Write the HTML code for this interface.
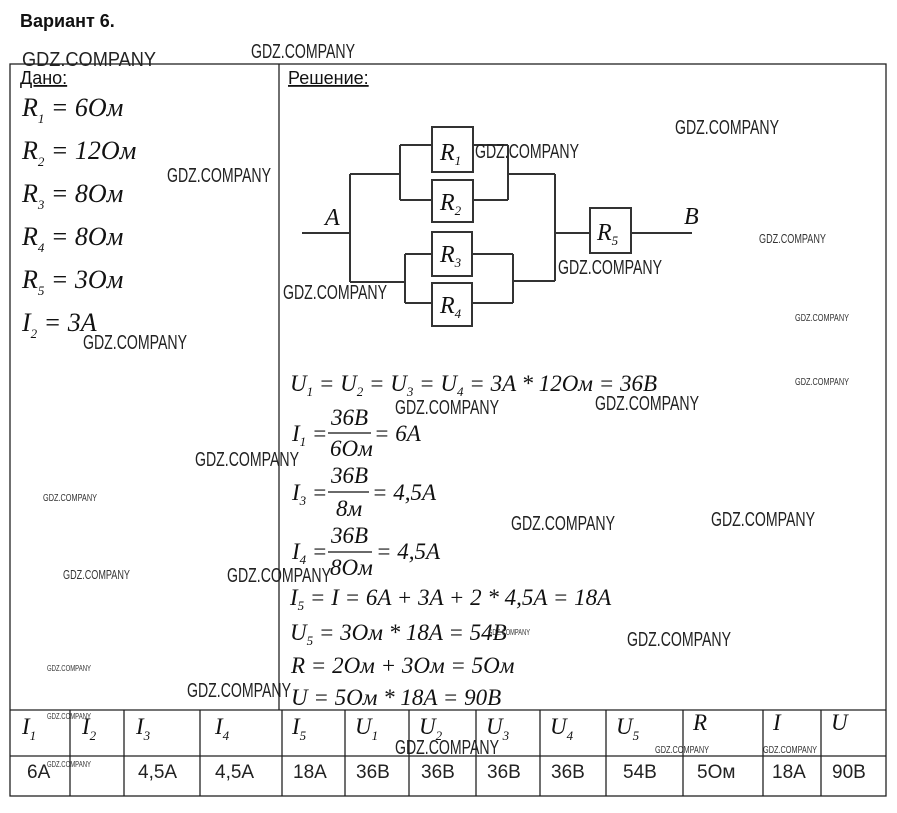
<!DOCTYPE html>
<html><head><meta charset="utf-8"><style>
body{margin:0;background:#fff}
svg{display:block}
.f{font-family:"Liberation Serif",serif;font-style:italic;font-size:23px;fill:#111}
.s{font-family:"Liberation Serif",serif;font-style:italic;font-size:13px;fill:#111}
.w{font-family:"Liberation Sans Narrow","Liberation Sans",sans-serif;font-size:20px;fill:#222}
.ws{font-family:"Liberation Sans Narrow","Liberation Sans",sans-serif;font-size:10px;fill:#333}
.h{font-family:"Liberation Sans",sans-serif;font-size:18px;fill:#111}
.t{font-family:"Liberation Sans",sans-serif;font-size:19px;fill:#222}
</style></head><body>
<svg width="897" height="813" viewBox="0 0 897 813" xmlns="http://www.w3.org/2000/svg">
<text x="20" y="27" class="h" font-weight="bold">Вариант 6.</text>
<g stroke="#222" stroke-width="1.3" fill="none">
<rect x="10" y="64" width="876" height="732"/>
<line x1="279" y1="64" x2="279" y2="710"/>
<line x1="10" y1="710" x2="886" y2="710"/>
<line x1="10" y1="756" x2="886" y2="756"/>
<g>
<line x1="70" y1="710" x2="70" y2="796"/><line x1="124" y1="710" x2="124" y2="796"/>
<line x1="200" y1="710" x2="200" y2="796"/><line x1="282" y1="710" x2="282" y2="796"/>
<line x1="345" y1="710" x2="345" y2="796"/><line x1="409" y1="710" x2="409" y2="796"/>
<line x1="476" y1="710" x2="476" y2="796"/><line x1="540" y1="710" x2="540" y2="796"/>
<line x1="606" y1="710" x2="606" y2="796"/><line x1="683" y1="710" x2="683" y2="796"/>
<line x1="763" y1="710" x2="763" y2="796"/><line x1="821" y1="710" x2="821" y2="796"/>
</g>
</g>
<text x="20" y="84" class="h" text-decoration="underline">Дано:</text>
<text x="288" y="84" class="h" text-decoration="underline">Решение:</text>
<g class="f" font-size="26">
<text x="22" y="116" font-size="26">R<tspan class="s" dy="7">1</tspan><tspan dy="-7"> = 6Ом</tspan></text>
<text x="22" y="159" font-size="26">R<tspan class="s" dy="7">2</tspan><tspan dy="-7"> = 12Ом</tspan></text>
<text x="22" y="202" font-size="26">R<tspan class="s" dy="7">3</tspan><tspan dy="-7"> = 8Ом</tspan></text>
<text x="22" y="245" font-size="26">R<tspan class="s" dy="7">4</tspan><tspan dy="-7"> = 8Ом</tspan></text>
<text x="22" y="288" font-size="26">R<tspan class="s" dy="7">5</tspan><tspan dy="-7"> = 3Ом</tspan></text>
<text x="22" y="331" font-size="26">I<tspan class="s" dy="7">2</tspan><tspan dy="-7"> = 3A</tspan></text>
</g>
<!-- circuit -->
<g stroke="#333" stroke-width="2" fill="none">
<polyline points="302,233 350,233"/>
<line x1="350" y1="174" x2="350" y2="282"/>
<polyline points="350,174 400,174"/>
<line x1="400" y1="145" x2="400" y2="200"/>
<line x1="400" y1="145" x2="432" y2="145"/><line x1="400" y1="200" x2="432" y2="200"/>
<line x1="473" y1="145" x2="508" y2="145"/><line x1="473" y1="200" x2="508" y2="200"/>
<line x1="508" y1="145" x2="508" y2="200"/>
<line x1="508" y1="174" x2="555" y2="174"/>
<line x1="555" y1="174" x2="555" y2="281"/>
<line x1="350" y1="282" x2="405" y2="282"/>
<line x1="405" y1="254" x2="405" y2="303"/>
<line x1="405" y1="254" x2="432" y2="254"/><line x1="405" y1="303" x2="432" y2="303"/>
<line x1="472" y1="254" x2="513" y2="254"/><line x1="472" y1="303" x2="513" y2="303"/>
<line x1="513" y1="254" x2="513" y2="303"/>
<line x1="513" y1="281" x2="555" y2="281"/>
<line x1="555" y1="233" x2="590" y2="233"/>
<line x1="631" y1="233" x2="692" y2="233"/>
<rect x="432" y="127" width="41" height="45"/>
<rect x="432" y="180" width="41" height="42"/>
<rect x="432" y="232" width="40" height="44"/>
<rect x="432" y="283" width="40" height="43"/>
<rect x="590" y="208" width="41" height="45"/>
</g>
<g class="f" font-size="24">
<text x="440" y="160" font-size="24">R<tspan class="s" dy="5">1</tspan></text>
<text x="440" y="210" font-size="24">R<tspan class="s" dy="5">2</tspan></text>
<text x="440" y="262" font-size="24">R<tspan class="s" dy="5">3</tspan></text>
<text x="440" y="313" font-size="24">R<tspan class="s" dy="5">4</tspan></text>
<text x="597" y="240" font-size="24">R<tspan class="s" dy="5">5</tspan></text>
<text x="325" y="225" font-size="24">A</text>
<text x="684" y="224" font-size="24">B</text>
</g>
<!-- formulas -->
<text x="290" y="391" class="f">U<tspan class="s" dy="5">1</tspan><tspan dy="-5"> = U</tspan><tspan class="s" dy="5">2</tspan><tspan dy="-5"> = U</tspan><tspan class="s" dy="5">3</tspan><tspan dy="-5"> = U</tspan><tspan class="s" dy="5">4</tspan><tspan dy="-5"> = 3A * 12Ом = 36B</tspan></text>
<g class="f">
<text x="292" y="441">I<tspan class="s" dy="5">1</tspan><tspan dy="-5"> =</tspan></text>
<text x="331" y="425">36B</text><line x1="328" y1="433" x2="371" y2="433" stroke="#111" stroke-width="1.2"/><text x="330" y="456">6Ом</text>
<text x="374" y="441">= 6A</text>
<text x="292" y="500">I<tspan class="s" dy="5">3</tspan><tspan dy="-5"> =</tspan></text>
<text x="331" y="483">36B</text><line x1="328" y1="492" x2="369" y2="492" stroke="#111" stroke-width="1.2"/><text x="336" y="516">8м</text>
<text x="372" y="500">= 4,5A</text>
<text x="292" y="559">I<tspan class="s" dy="5">4</tspan><tspan dy="-5"> =</tspan></text>
<text x="331" y="543">36B</text><line x1="328" y1="552" x2="372" y2="552" stroke="#111" stroke-width="1.2"/><text x="330" y="575">8Ом</text>
<text x="376" y="559">= 4,5A</text>
<text x="290" y="605">I<tspan class="s" dy="5">5</tspan><tspan dy="-5"> = I = 6A + 3A + 2 * 4,5A = 18A</tspan></text>
<text x="290" y="640">U<tspan class="s" dy="5">5</tspan><tspan dy="-5"> = 3Ом * 18A = 54B</tspan></text>
<text x="291" y="673">R = 2Ом + 3Ом = 5Ом</text>
<text x="291" y="705">U = 5Ом * 18A = 90B</text>
</g>
<!-- table headers -->
<g class="f" font-size="21">
<text x="22" y="734">I<tspan class="s" dy="6">1</tspan></text>
<text x="82" y="734">I<tspan class="s" dy="6">2</tspan></text>
<text x="136" y="734">I<tspan class="s" dy="6">3</tspan></text>
<text x="215" y="734">I<tspan class="s" dy="6">4</tspan></text>
<text x="292" y="734">I<tspan class="s" dy="6">5</tspan></text>
<text x="355" y="734">U<tspan class="s" dy="6">1</tspan></text>
<text x="419" y="734">U<tspan class="s" dy="6">2</tspan></text>
<text x="486" y="734">U<tspan class="s" dy="6">3</tspan></text>
<text x="550" y="734">U<tspan class="s" dy="6">4</tspan></text>
<text x="616" y="734">U<tspan class="s" dy="6">5</tspan></text>
<text x="693" y="730">R</text>
<text x="773" y="730">I</text>
<text x="831" y="730">U</text>
</g>
<g class="t">
<text x="27" y="778">6A</text>
<text x="138" y="778">4,5A</text>
<text x="215" y="778">4,5A</text>
<text x="293" y="778">18A</text>
<text x="356" y="778">36B</text>
<text x="421" y="778">36B</text>
<text x="487" y="778">36B</text>
<text x="551" y="778">36B</text>
<text x="623" y="778">54B</text>
<text x="697" y="778">5Ом</text>
<text x="772" y="778">18A</text>
<text x="832" y="778">90B</text>
</g>
<!-- watermarks -->
<g class="w">
<text x="22" y="66" textLength="134" lengthAdjust="spacingAndGlyphs">GDZ.COMPANY</text>
<text x="251" y="58" textLength="104" lengthAdjust="spacingAndGlyphs">GDZ.COMPANY</text>
<text x="167" y="182" textLength="104" lengthAdjust="spacingAndGlyphs">GDZ.COMPANY</text>
<text x="475" y="158" textLength="104" lengthAdjust="spacingAndGlyphs">GDZ.COMPANY</text>
<text x="675" y="134" textLength="104" lengthAdjust="spacingAndGlyphs">GDZ.COMPANY</text>
<text x="283" y="299" textLength="104" lengthAdjust="spacingAndGlyphs">GDZ.COMPANY</text>
<text x="558" y="274" textLength="104" lengthAdjust="spacingAndGlyphs">GDZ.COMPANY</text>
<text x="83" y="349" textLength="104" lengthAdjust="spacingAndGlyphs">GDZ.COMPANY</text>
<text x="395" y="414" textLength="104" lengthAdjust="spacingAndGlyphs">GDZ.COMPANY</text>
<text x="595" y="410" textLength="104" lengthAdjust="spacingAndGlyphs">GDZ.COMPANY</text>
<text x="195" y="466" textLength="104" lengthAdjust="spacingAndGlyphs">GDZ.COMPANY</text>
<text x="511" y="530" textLength="104" lengthAdjust="spacingAndGlyphs">GDZ.COMPANY</text>
<text x="711" y="526" textLength="104" lengthAdjust="spacingAndGlyphs">GDZ.COMPANY</text>
<text x="227" y="582" textLength="104" lengthAdjust="spacingAndGlyphs">GDZ.COMPANY</text>
<text x="627" y="646" textLength="104" lengthAdjust="spacingAndGlyphs">GDZ.COMPANY</text>
<text x="187" y="697" textLength="104" lengthAdjust="spacingAndGlyphs">GDZ.COMPANY</text>
<text x="395" y="754" textLength="104" lengthAdjust="spacingAndGlyphs">GDZ.COMPANY</text>
</g>
<g class="ws">
<text x="759" y="243" textLength="67" lengthAdjust="spacingAndGlyphs" font-size="13">GDZ.COMPANY</text>
<text x="795" y="321" textLength="54" lengthAdjust="spacingAndGlyphs">GDZ.COMPANY</text>
<text x="795" y="385" textLength="54" lengthAdjust="spacingAndGlyphs">GDZ.COMPANY</text>
<text x="43" y="501" textLength="54" lengthAdjust="spacingAndGlyphs">GDZ.COMPANY</text>
<text x="63" y="579" textLength="67" lengthAdjust="spacingAndGlyphs" font-size="13">GDZ.COMPANY</text>
<text x="488" y="635" textLength="42" lengthAdjust="spacingAndGlyphs" font-size="8">GDZ.COMPANY</text>
<text x="47" y="671" textLength="44" lengthAdjust="spacingAndGlyphs" font-size="8">GDZ.COMPANY</text>
<text x="47" y="719" textLength="44" lengthAdjust="spacingAndGlyphs" font-size="8">GDZ.COMPANY</text>
<text x="655" y="753" textLength="54" lengthAdjust="spacingAndGlyphs">GDZ.COMPANY</text>
<text x="763" y="753" textLength="54" lengthAdjust="spacingAndGlyphs">GDZ.COMPANY</text>
<text x="47" y="767" textLength="44" lengthAdjust="spacingAndGlyphs" font-size="8">GDZ.COMPANY</text>
</g>
</svg>
</body></html>
